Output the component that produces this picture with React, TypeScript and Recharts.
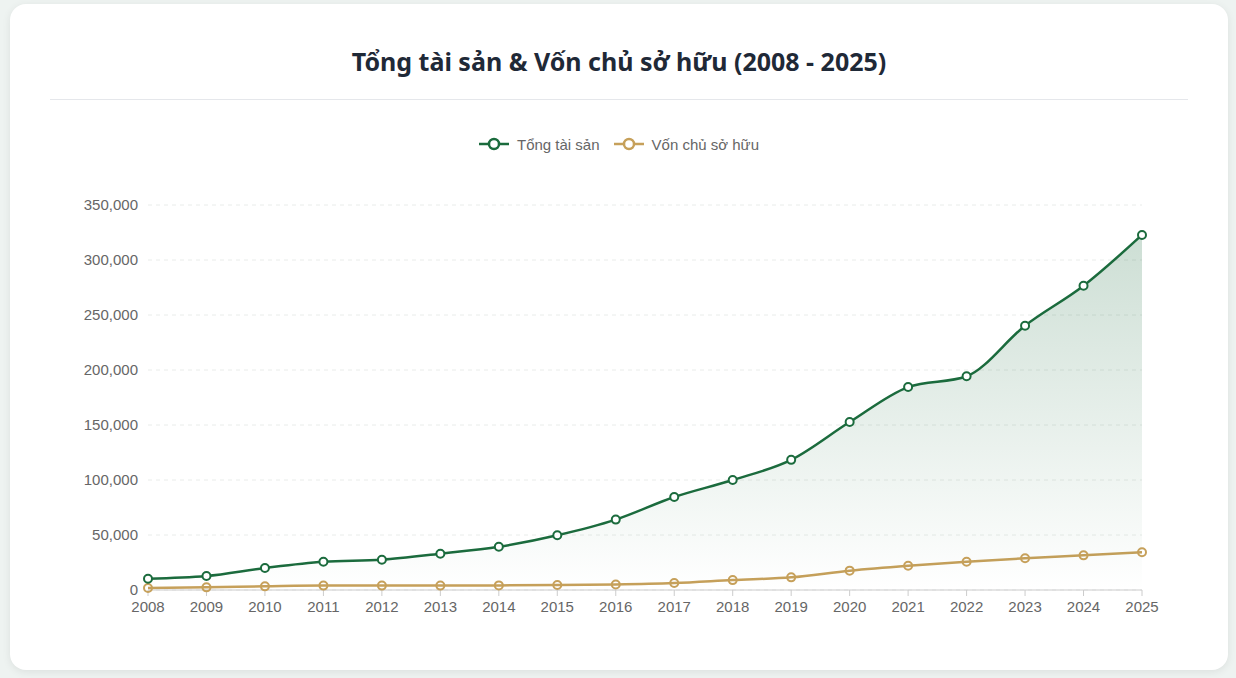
import React from "react";
import { AreaChart, Area, XAxis, YAxis, CartesianGrid } from "recharts";

const years = ["2008","2009","2010","2011","2012","2013","2014","2015","2016","2017","2018","2019","2020","2021","2022","2023","2024","2025"];
const totalAssets = [10300,12700,20000,25700,27500,33000,39300,49800,64000,84500,100000,118300,152700,184500,194300,240300,276600,322800];
const equity = [1800,2400,3300,4000,4000,4000,4200,4500,5000,6300,9000,11500,17600,22100,25700,28800,31500,34300];
const yTicks = [0,50000,100000,150000,200000,250000,300000,350000];

const GREEN = "#1b6b3d";
const GOLD = "#c6a05a";

const data = years.map((y, i) => ({ year: y, assets: totalAssets[i], equity: equity[i] }));

const fmt = (v: number) => v.toLocaleString("en-US");

const LegendItem = ({ color, label }: { color: string; label: string }) => (
  <div style={{ display: "flex", alignItems: "center" }}>
    <svg width={30} height={14} style={{ marginRight: 8 }}>
      <line x1={0} y1={7} x2={30} y2={7} stroke={color} strokeWidth={2.5} />
      <circle cx={15} cy={7} r={5} fill="#fff" stroke={color} strokeWidth={2.5} />
    </svg>
    <span>{label}</span>
  </div>
);

const tickStyle = { fill: "#666", fontSize: 15, fontFamily: "'Liberation Sans', Arial, sans-serif" };

export default function App() {
  return (
    <div style={{ position: "absolute", left: 0, top: 0, width: 1236, height: 678, background: "#eef3f1", overflow: "hidden" }}>
      <div style={{ position: "absolute", left: 10, top: 4, width: 1218, height: 666, background: "#fff", borderRadius: 16, boxShadow: "0 2px 8px rgba(0,0,0,0.08)" }} />
      <div style={{ position: "absolute", left: 10, width: 1218, top: 44, textAlign: "center", fontFamily: "'Noto Sans', sans-serif", fontWeight: 700, fontSize: 25, color: "#1f2937", lineHeight: "34px" }}>
        Tổng tài sản &amp; Vốn chủ sở hữu (2008 - 2025)
      </div>
      <div style={{ position: "absolute", left: 50, width: 1138, top: 99, height: 1, background: "#e5e7eb" }} />
      <div style={{ position: "absolute", left: 50, width: 1138, top: 135, height: 18, display: "flex", justifyContent: "center", alignItems: "center", gap: 14, fontFamily: "'Liberation Sans', Arial, sans-serif", fontSize: 15, color: "#666" }}>
        <LegendItem color={GREEN} label="Tổng tài sản" />
        <LegendItem color={GOLD} label="Vốn chủ sở hữu" />
      </div>
      <div style={{ position: "absolute", left: 50, top: 195 }}>
        <AreaChart width={1138} height={425} data={data} margin={{ top: 10, right: 46, bottom: 0, left: 0 }}>
          <defs>
            <linearGradient id="gAssets" x1="0" y1="0" x2="0" y2="1">
              <stop offset="0%" stopColor={GREEN} stopOpacity={0.22} />
              <stop offset="100%" stopColor={GREEN} stopOpacity={0.0} />
            </linearGradient>
          </defs>
          <CartesianGrid vertical={false} stroke="#e9ecea" strokeDasharray="4 4" />
          <XAxis
            dataKey="year"
            height={30}
            tickMargin={5}
            stroke="#cccccc"
            tick={tickStyle}
          />
          <YAxis
            width={98}
            domain={[0, 350000]}
            ticks={yTicks}
            tickFormatter={fmt}
            axisLine={false}
            tickLine={false}
            tickMargin={4}
            tick={tickStyle}
          />
          <Area
            type="monotone"
            dataKey="equity"
            stroke={GOLD}
            strokeWidth={2.5}
            fill="none"
            fillOpacity={0}
            dot={{ r: 4, fill: "#fff", stroke: GOLD, strokeWidth: 2 }}
            activeDot={false}
            isAnimationActive={false}
          />
          <Area
            type="monotone"
            dataKey="assets"
            stroke={GREEN}
            strokeWidth={2.5}
            fill="url(#gAssets)"
            fillOpacity={1}
            dot={{ r: 4, fill: "#fff", stroke: GREEN, strokeWidth: 2 }}
            activeDot={false}
            isAnimationActive={false}
          />
        </AreaChart>
      </div>
    </div>
  );
}
